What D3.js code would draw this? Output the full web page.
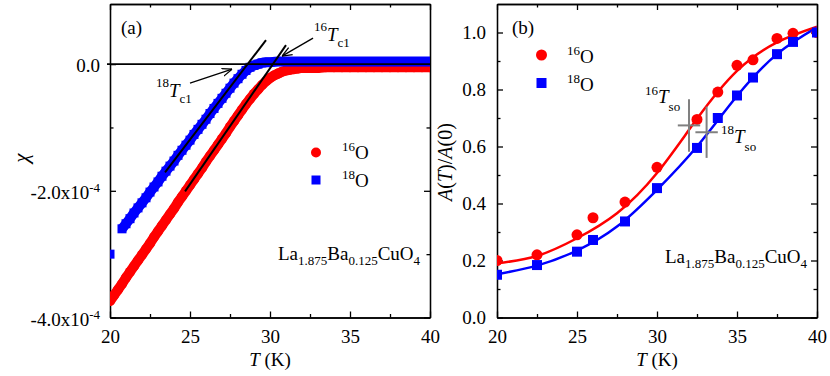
<!DOCTYPE html>
<html>
<head>
<meta charset="utf-8">
<script src="https://cdn.jsdelivr.net/npm/d3@7"></script>
<style>
  body { margin: 0; background: #fff; }
  #chart, #chart text, #chart tspan { font-family: "Liberation Serif", "Times New Roman", Times, serif; }
  #chart text { fill: #000; }
</style>
</head>
<body>
<svg id="chart" width="830" height="376"></svg>
<script>
// ---- Panel (a): susceptibility, chi in units of 1e-4 ----
const tempA16 = [20, 20.25, 20.5, 20.75, 21, 21.25, 21.5, 21.75, 22, 22.25, 22.5, 22.75,
  23, 23.25, 23.5, 23.75, 24, 24.25, 24.5, 24.75, 25, 25.25, 25.5, 25.75,
  26, 26.25, 26.5, 26.75, 27, 27.25, 27.5, 27.75, 28, 28.25, 28.5, 28.75,
  29, 29.25, 29.5, 29.75, 30, 30.25, 30.5, 30.75, 31, 31.25, 31.5, 31.75, 32,
  32.5, 33, 33.5, 34, 34.5, 35, 35.5, 36, 36.5, 37, 37.5, 38, 38.5, 39, 39.5, 40]
const chi16 = [-3.74, -3.65, -3.56, -3.47, -3.37, -3.28, -3.19, -3.10, -3.01, -2.92, -2.83, -2.73,
  -2.64, -2.55, -2.46, -2.37, -2.28, -2.18, -2.09, -2.00, -1.91, -1.82, -1.73, -1.64,
  -1.54, -1.45, -1.36, -1.27, -1.18, -1.09, -0.99, -0.90, -0.81, -0.72, -0.63, -0.55,
  -0.47, -0.40, -0.33, -0.27, -0.22, -0.18, -0.15, -0.12, -0.10, -0.09, -0.08, -0.07, -0.06,
  -0.06, -0.06, -0.05, -0.05, -0.05, -0.05, -0.05, -0.05, -0.05, -0.05, -0.05, -0.05, -0.05, -0.05, -0.05, -0.05]
const tempA18 = [20, 20.75, 21, 21.25, 21.5, 21.75, 22, 22.25, 22.5, 22.75,
  23, 23.25, 23.5, 23.75, 24, 24.25, 24.5, 24.75, 25, 25.25, 25.5, 25.75,
  26, 26.25, 26.5, 26.75, 27, 27.25, 27.5, 27.75, 28, 28.25, 28.5, 28.75,
  29, 29.25, 29.5, 29.75, 30,
  30.5, 31, 31.5, 32, 32.5, 33, 33.5, 34, 34.5, 35, 35.5, 36, 36.5, 37, 37.5, 38, 38.5, 39, 39.5, 40]
const chi18 = [-3.00, -2.60, -2.52, -2.44, -2.35, -2.27, -2.19, -2.11, -2.02, -1.94,
  -1.86, -1.77, -1.69, -1.61, -1.53, -1.44, -1.36, -1.28, -1.20, -1.11, -1.03, -0.95,
  -0.87, -0.78, -0.70, -0.62, -0.54, -0.46, -0.38, -0.30, -0.23, -0.16, -0.10, -0.05,
  -0.02, 0.00, 0.02, 0.03, 0.03,
  0.04, 0.04, 0.04, 0.04, 0.04, 0.04, 0.04, 0.04, 0.04, 0.04, 0.04, 0.04, 0.04, 0.04, 0.04, 0.04, 0.04, 0.04, 0.04, 0.04]
// linear fits used to define Tc1
const fitTemp16 = [24.69, 31.0]
const fitChi16 = [-2.01, 0.30]
const fitTemp18 = [23.44, 29.75]
const fitChi18 = [-1.71, 0.38]

// ---- Panel (b): normalised asymmetry ----
const tempB = [20, 22.5, 25, 26, 28, 30, 32.5, 33.8, 35, 36, 37.5, 38.5, 40]
const asym16 = [0.20, 0.22, 0.29, 0.35, 0.405, 0.527, 0.695, 0.791, 0.885, 0.904, 0.979, 0.997, 1.0]
const asym18 = [0.15, 0.184, 0.231, 0.272, 0.337, 0.454, 0.595, 0.70, 0.779, 0.842, 0.924, 0.967, 1.0]
const fitTempB = [20, 22.5, 25, 27.5, 30, 32.5, 35, 37.5, 40]
const fitAsym16 = [0.19, 0.216, 0.278, 0.366, 0.507, 0.697, 0.865, 0.965, 1.02]
const fitAsym18 = [0.152, 0.182, 0.235, 0.319, 0.448, 0.60, 0.777, 0.924, 1.018]
// Tso crosses
const tsoTemp = [32.0, 33.1]
const tsoAsym = [0.674, 0.65]
const tsoErrTemp = [0.7, 0.7]
const tsoErrAsym = [0.092, 0.09]

// ticks
const xMajor = [20, 25, 30, 35, 40]
const xMinor = [22.5, 27.5, 32.5, 37.5]
const yMajorA = [-4, -2, 0]
const yMinorA = [-3, -1]
const yMajorB = [0, 0.2, 0.4, 0.6, 0.8, 1.0]
const yMinorB = [0.1, 0.3, 0.5, 0.7, 0.9]

const RED = '#ff0000'
const BLUE = '#0000ff'
const SERIF = '"Liberation Serif", "Times New Roman", Times, serif'
const BIG = 19
const SMALL = 13
const svg = d3.select('#chart').attr('font-family', SERIF)

// arrow head
svg.append('defs').append('marker')
  .attr('id', 'arrow')
  .attr('viewBox', '0 0 10 10')
  .attr('refX', 10).attr('refY', 5)
  .attr('markerWidth', 10).attr('markerHeight', 10)
  .attr('markerUnits', 'userSpaceOnUse')
  .attr('orient', 'auto')
  .append('path')
  .attr('d', 'M0,1 L10,5 L0,9')
  .attr('fill', 'none')
  .attr('stroke', '#000')
  .attr('stroke-width', 1.3)

function styleAxis(g) {
  g.attr('font-size', null).attr('font-family', SERIF)
  g.selectAll('.domain, .tick line').attr('stroke', '#000').attr('stroke-width', 1.3)
  g.selectAll('.tick text').style('font-size', `${BIG}px`).style('font-family', SERIF)
}

function drawAxes(x, y, yMajor, yMinor, yPad, yDy, clipId) {
  const [x0, x1] = x.range()
  const [y0, y1] = y.range()
  const g = svg.append('g')

  g.append('defs').append('clipPath').attr('id', clipId)
    .append('rect').attr('x', x0).attr('y', y1).attr('width', x1 - x0).attr('height', y0 - y1)

  // bottom
  g.append('g').attr('transform', `translate(0,${y0})`)
    .call(d3.axisBottom(x).tickValues(xMajor).tickSizeInner(-6).tickSizeOuter(0).tickPadding(12).tickFormat(d3.format('d')))
    .call(styleAxis)
  g.append('g').attr('transform', `translate(0,${y0})`)
    .call(d3.axisBottom(x).tickValues(xMinor).tickSizeInner(-3.5).tickSizeOuter(0).tickFormat(''))
    .call(styleAxis)
  // top
  g.append('g').attr('transform', `translate(0,${y1})`)
    .call(d3.axisTop(x).tickValues(xMajor).tickSizeInner(-6).tickSizeOuter(0).tickFormat(''))
    .call(styleAxis)
  g.append('g').attr('transform', `translate(0,${y1})`)
    .call(d3.axisTop(x).tickValues(xMinor).tickSizeInner(-3.5).tickSizeOuter(0).tickFormat(''))
    .call(styleAxis)
  // left
  const left = g.append('g').attr('transform', `translate(${x0},0)`)
    .call(d3.axisLeft(y).tickValues(yMajor).tickSizeInner(-6).tickSizeOuter(0).tickPadding(yPad))
    .call(styleAxis)
  left.selectAll('.tick text').attr('dy', yDy)
  g.append('g').attr('transform', `translate(${x0},0)`)
    .call(d3.axisLeft(y).tickValues(yMinor).tickSizeInner(-3.5).tickSizeOuter(0).tickFormat(''))
    .call(styleAxis)
  // right
  g.append('g').attr('transform', `translate(${x1},0)`)
    .call(d3.axisRight(y).tickValues(yMajor).tickSizeInner(-6).tickSizeOuter(0).tickFormat(''))
    .call(styleAxis)
  g.append('g').attr('transform', `translate(${x1},0)`)
    .call(d3.axisRight(y).tickValues(yMinor).tickSizeInner(-3.5).tickSizeOuter(0).tickFormat(''))
    .call(styleAxis)
  return left
}

// label helper: parts = [text, size, dy, italic]
function richText(parent, x, y, parts, anchor) {
  const t = parent.append('text').attr('x', x).attr('y', y)
    .attr('text-anchor', anchor || 'start')
    .style('font-family', SERIF)
  parts.forEach(p => {
    const s = t.append('tspan').text(p[0]).style('font-size', `${p[1]}px`)
    if (p[2]) s.attr('dy', p[2])
    if (p[3]) s.style('font-style', 'italic')
  })
  return t
}

function xTitle(x) {
  richText(svg, d3.mean(x.range()), 366, [['T', BIG, 0, true], [' (K)', BIG]], 'middle')
}

// =========================== Panel (a) ===========================
const xa = d3.scaleLinear().domain([20, 40]).range([110, 430])
const ya = d3.scaleLinear().domain([-4, 0.949]).range([317.5, 4])

const leftA = drawAxes(xa, ya, yMajorA, yMinorA, 10, '0.4em', 'clipA')
leftA.selectAll('.tick text').each(function (d) {
  const t = d3.select(this).text(null)
  if (d === 0) {
    t.text('0.0')
    return
  }
  t.append('tspan').text(`${d.toFixed(1)}x10`)
  t.append('tspan').attr('dy', '-0.5em').style('font-size', `${SMALL}px`).text('-4')
})

const plotA = svg.append('g').attr('clip-path', 'url(#clipA)')
const bandA = d3.line().x(d => xa(d[0])).y(d => ya(d[1]))

// 16O: dense circles, joined by a band of the same width
const pts16 = tempA16.map((t, i) => [t, chi16[i]])
plotA.append('path')
  .attr('d', bandA(pts16))
  .attr('fill', 'none').attr('stroke', RED).attr('stroke-width', 10)
  .attr('stroke-linejoin', 'round').attr('stroke-linecap', 'round')
plotA.append('g').selectAll('circle')
  .data(pts16)
  .enter()
  .append('circle')
  .attr('cx', d => xa(d[0]))
  .attr('cy', d => ya(d[1]))
  .attr('r', 5)
  .attr('fill', RED)

// 18O squares (first point at 20 K stands alone)
const sqA = 9
const pts18 = tempA18.map((t, i) => [t, chi18[i]])
plotA.append('path')
  .attr('d', bandA(pts18.slice(1)))
  .attr('fill', 'none').attr('stroke', BLUE).attr('stroke-width', 10)
  .attr('stroke-linejoin', 'round')
plotA.append('g').selectAll('rect')
  .data(pts18)
  .enter()
  .append('rect')
  .attr('x', d => xa(d[0]) - sqA / 2)
  .attr('y', d => ya(d[1]) - sqA / 2)
  .attr('width', sqA)
  .attr('height', sqA)
  .attr('fill', BLUE)

// zero line
svg.append('line')
  .attr('x1', xa(20) - 3).attr('x2', xa(40))
  .attr('y1', ya(0)).attr('y2', ya(0))
  .attr('stroke', '#000').attr('stroke-width', 1.8)

// fit lines
const fitLine = d3.line().x(d => xa(d[0])).y(d => ya(d[1]))
;[[fitTemp16, fitChi16], [fitTemp18, fitChi18]].forEach(([t, c]) => {
  svg.append('path')
    .attr('d', fitLine(t.map((v, i) => [v, c[i]])))
    .attr('stroke', '#000').attr('stroke-width', 2).attr('fill', 'none')
})

// arrows to Tc1
svg.append('line')
  .attr('x1', xa(32.69)).attr('y1', ya(0.41))
  .attr('x2', xa(30.75)).attr('y2', ya(0.126))
  .attr('stroke', '#000').attr('stroke-width', 1.3).attr('marker-end', 'url(#arrow)')
svg.append('line')
  .attr('x1', xa(25.0)).attr('y1', ya(-0.30))
  .attr('x2', xa(27.63)).attr('y2', ya(-0.08))
  .attr('stroke', '#000').attr('stroke-width', 1.3).attr('marker-end', 'url(#arrow)')

richText(svg, 314, 31, [['16', SMALL], ['T', BIG, 10, true], ['c1', SMALL, 6]])
richText(svg, 156, 87, [['18', SMALL], ['T', BIG, 10, true], ['c1', SMALL, 6]])

richText(svg, 121, 34, [['(a)', BIG]])

// legend (a)
svg.append('circle').attr('cx', 316).attr('cy', 152.5).attr('r', 5).attr('fill', RED)
svg.append('rect').attr('x', 316 - 4.5).attr('y', 180 - 4.5).attr('width', 9).attr('height', 9).attr('fill', BLUE)
richText(svg, 342, 151, [['16', SMALL], ['O', BIG, 8]])
richText(svg, 342, 179, [['18', SMALL], ['O', BIG, 8]])

const formula = [['La', BIG], ['1.875', SMALL, 5], ['Ba', BIG, -5], ['0.125', SMALL, 5], ['CuO', BIG, -5], ['4', SMALL, 5]]
richText(svg, 278, 260, formula)

xTitle(xa)
richText(svg.append('g').attr('transform', 'translate(28,158) rotate(-90)'), 0, 0,
  [['χ', 21, 0, true]], 'middle')

// =========================== Panel (b) ===========================
const xb = d3.scaleLinear().domain([20, 40]).range([497, 817])
const yb = d3.scaleLinear().domain([0, 1.1]).range([317.5, 4])

drawAxes(xb, yb, yMajorB, yMinorB, 11, '0.33em', 'clipB')
  .selectAll('.tick text').text(d => d.toFixed(1))

const curve = d3.line().x(d => xb(d[0])).y(d => yb(d[1])).curve(d3.curveNatural)
const plotB = svg.append('g').attr('clip-path', 'url(#clipB)')

plotB.append('path')
  .attr('d', curve(fitTempB.map((t, i) => [t, fitAsym16[i]])))
  .attr('stroke', RED).attr('stroke-width', 2.5).attr('fill', 'none')
plotB.append('path')
  .attr('d', curve(fitTempB.map((t, i) => [t, fitAsym18[i]])))
  .attr('stroke', BLUE).attr('stroke-width', 2.5).attr('fill', 'none')

plotB.append('g').selectAll('circle')
  .data(tempB)
  .enter()
  .append('circle')
  .attr('cx', d => xb(d))
  .attr('cy', (_, i) => yb(asym16[i]))
  .attr('r', 5.5)
  .attr('fill', RED)

const sqB = 10
plotB.append('g').selectAll('rect')
  .data(tempB)
  .enter()
  .append('rect')
  .attr('x', d => xb(d) - sqB / 2)
  .attr('y', (_, i) => yb(asym18[i]) - sqB / 2)
  .attr('width', sqB)
  .attr('height', sqB)
  .attr('fill', BLUE)

// Tso crosses
tsoTemp.forEach((t, i) => {
  const g = svg.append('g').attr('stroke', '#808080').attr('stroke-width', 2)
  g.append('line')
    .attr('x1', xb(t - tsoErrTemp[i])).attr('x2', xb(t + tsoErrTemp[i]))
    .attr('y1', yb(tsoAsym[i])).attr('y2', yb(tsoAsym[i]))
  g.append('line')
    .attr('x1', xb(t)).attr('x2', xb(t))
    .attr('y1', yb(tsoAsym[i] - tsoErrAsym[i])).attr('y2', yb(tsoAsym[i] + tsoErrAsym[i]))
})

richText(svg, 645, 95, [['16', SMALL], ['T', BIG, 8, true], ['so', SMALL, 8]])
richText(svg, 721, 134, [['18', SMALL], ['T', BIG, 9, true], ['so', SMALL, 8]])

richText(svg, 512, 34, [['(b)', BIG]])

// legend (b)
svg.append('circle').attr('cx', 541.5).attr('cy', 55).attr('r', 5.5).attr('fill', RED)
svg.append('rect').attr('x', 541.5 - 5).attr('y', 83 - 5).attr('width', 10).attr('height', 10).attr('fill', BLUE)
richText(svg, 567, 55, [['16', SMALL], ['O', BIG, 8]])
richText(svg, 567, 83, [['18', SMALL], ['O', BIG, 8]])

richText(svg, 665, 263, formula)

xTitle(xb)
richText(svg.append('g').attr('transform', 'translate(452,162) rotate(-90)'), 0, 0,
  [['A', 20, 0, true], ['(', 20], ['T', 20, 0, true], [')/', 20], ['A', 20, 0, true], ['(0)', 20]], 'middle')
</script>
</body>
</html>
